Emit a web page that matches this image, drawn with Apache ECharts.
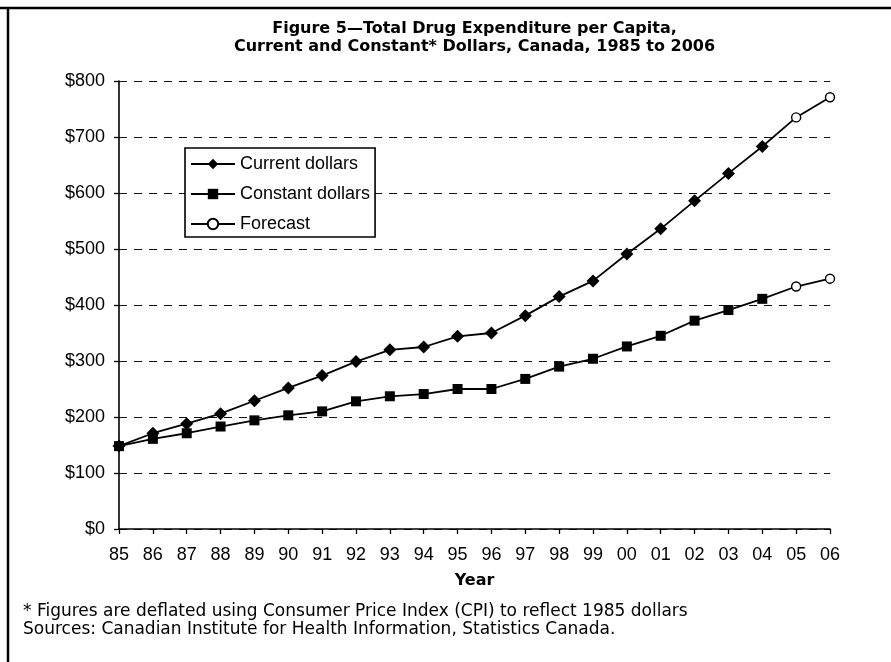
<!DOCTYPE html>
<html>
<head>
<meta charset="utf-8">
<script src="https://cdn.jsdelivr.net/npm/echarts@6/dist/echarts.min.js"></script>
<style>
html,body{margin:0;padding:0;background:#fff;}
#chart{width:891px;height:662px;}
</style>
</head>
<body>
<div id="chart"></div>
<script>
// ---- data ----
const years = ['85','86','87','88','89','90','91','92','93','94','95','96','97','98','99','00','01','02','03','04','05','06'];
const currentDollars = [148,171,188,206,229,252,274,299,320,325,344,350,381,415,443,491,536,586,635,683,735,771];
const constantDollars = [148,161,171,183,194,203,210,228,237,241,250,250,268,290,304,326,345,372,391,411,433,447];
const forecastStart = 20; // index of first forecast year ('05')
const yTicks = [0,100,200,300,400,500,600,700,800];
const titleLines = ['Figure 5\u2014Total Drug Expenditure per Capita,', 'Current and Constant* Dollars, Canada, 1985 to 2006'];
const xAxisTitle = 'Year';
const notes = ['* Figures are deflated using Consumer Price Index (CPI) to reflect 1985 dollars', 'Sources: Canadian Institute for Health Information, Statistics Canada.'];

const FONT = "'Liberation Sans', Arial, sans-serif";
const WIDE = "'DejaVu Sans', 'Liberation Sans', sans-serif";

function actualPart(arr){
  return arr.map((v,i)=> i < forecastStart ? v : null);
}
function forecastPart(arr){
  return arr.map((v,i)=> {
    if (i < forecastStart - 1) return null;
    if (i === forecastStart - 1) return {value: v, symbol: 'none'};
    return v;
  });
}

const chart = echarts.init(document.getElementById('chart'), null, {renderer:'canvas'});
const lineStyle = {color:'#000', width:1.8};
const openCircle = {color:'#fff', borderColor:'#000', borderWidth:1.4};
chart.setOption({
  animation:false,
  backgroundColor:'#fff',
  textStyle:{fontFamily:FONT},
  grid:{left:119, right:61, top:81, bottom:133, containLabel:false},
  xAxis:{
    type:'category', data:years, boundaryGap:false,
    axisLine:{lineStyle:{color:'#000', width:1.6}},
    axisTick:{show:true, inside:false, length:5, lineStyle:{color:'#000', width:1.3}},
    axisLabel:{color:'#000', fontSize:18, fontFamily:FONT, margin:17, interval:0},
    splitLine:{show:false}
  },
  yAxis:{
    type:'value', min:yTicks[0], max:yTicks[yTicks.length-1], interval:100,
    axisLine:{show:true, lineStyle:{color:'#000', width:1.6}},
    axisTick:{show:true, length:5, lineStyle:{color:'#000', width:1.3}},
    axisLabel:{color:'#000', fontSize:18, fontFamily:FONT, margin:14, formatter: v => '$' + v},
    splitLine:{show:true, lineStyle:{color:'#111', width:1, type:[8,7]}}
  },
  legend:{
    orient:'vertical', left:185, top:148,
    data:['Current dollars','Constant dollars','Forecast'],
    backgroundColor:'#fff', borderColor:'#000', borderWidth:1.6,
    padding:[7,5,4,5], itemWidth:44, itemHeight:13, itemGap:12,
    textStyle:{color:'#000', fontSize:18, fontFamily:FONT},
    selectedMode:false
  },
  series:[
    {name:'Current dollars', type:'line', data:actualPart(currentDollars),
     symbol:'diamond', symbolSize:13, itemStyle:{color:'#000'}, lineStyle:lineStyle, z:3},
    {name:'Constant dollars', type:'line', data:actualPart(constantDollars),
     symbol:'rect', symbolSize:10, itemStyle:{color:'#000'}, lineStyle:lineStyle, z:3},
    {name:'Forecast', type:'line', data:forecastPart(currentDollars),
     symbol:'circle', symbolSize:9, itemStyle:openCircle, lineStyle:lineStyle, z:4},
    {name:'Forecast', type:'line', data:forecastPart(constantDollars),
     symbol:'circle', symbolSize:9, itemStyle:openCircle, lineStyle:lineStyle, z:4}
  ],
  graphic:[
    {type:'line', shape:{x1:0, y1:8, x2:891, y2:8}, style:{stroke:'#000', lineWidth:2.5}},
    {type:'line', shape:{x1:8, y1:7, x2:8, y2:662}, style:{stroke:'#000', lineWidth:2.5}},
    {type:'text', x:474.5, y:29, style:{text:titleLines[0], fill:'#000', font:'bold 16px ' + WIDE, align:'center', verticalAlign:'middle'}},
    {type:'text', x:474.5, y:47, style:{text:titleLines[1], fill:'#000', font:'bold 16px ' + WIDE, align:'center', verticalAlign:'middle'}},
    {type:'text', x:474.5, y:581, style:{text:xAxisTitle, fill:'#000', font:'bold 16px ' + WIDE, align:'center', verticalAlign:'middle'}},
    {type:'text', x:23, y:612, style:{text:notes[0], fill:'#000', font:'17px ' + WIDE, align:'left', verticalAlign:'middle'}},
    {type:'text', x:23, y:629.5, style:{text:notes[1], fill:'#000', font:'17px ' + WIDE, align:'left', verticalAlign:'middle'}}
  ]
});
</script>
</body>
</html>
